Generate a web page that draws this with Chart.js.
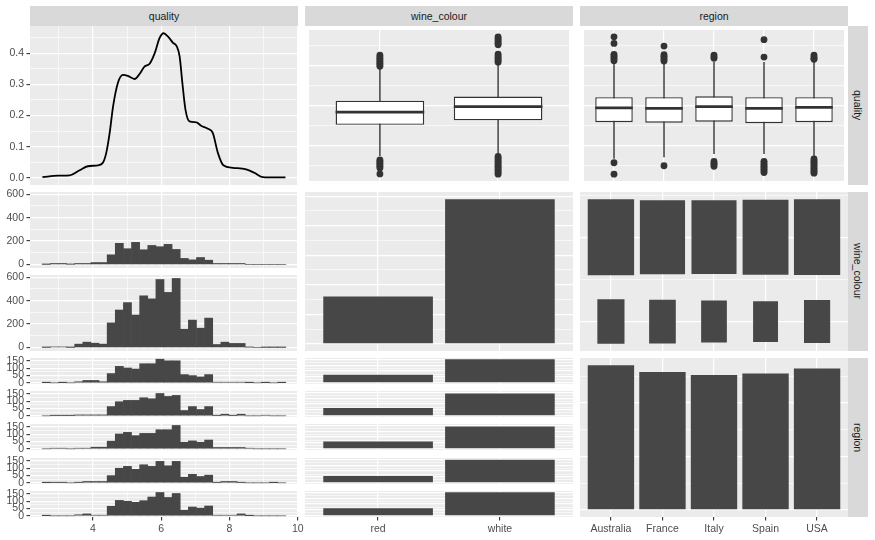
<!DOCTYPE html>
<html><head><meta charset="utf-8">
<script src="https://cdn.jsdelivr.net/npm/chart.js@4.4.1/dist/chart.umd.min.js"></script>
<style>
html,body{margin:0;padding:0;background:#fff;}
#wrap{position:relative;width:875px;height:540px;overflow:hidden;background:#fff;}
canvas{position:absolute;}
.strip{position:absolute;background:#D9D9D9;color:#1A1A1A;font:10.5px 'Liberation Sans',Arial,Helvetica,sans-serif;display:flex;align-items:center;justify-content:center;}
.strip.v{writing-mode:vertical-rl;}
</style></head><body><div id="wrap"></div>
<script>
// ---------------- DATA ----------------
const variables = ['quality', 'wine_colour', 'region'];
const colourLevels = ['red', 'white'];
const regionLevels = ['Australia', 'France', 'Italy', 'Spain', 'USA'];

// density of quality (diagonal)
const densityX = [2.52, 2.98, 3.32, 3.61, 3.85, 4.15, 4.29, 4.39, 4.49, 4.59, 4.73, 4.88, 5.02, 5.22, 5.37, 5.51, 5.66, 5.81, 5.95, 6.07, 6.20, 6.34, 6.46, 6.54, 6.62, 6.71, 6.83, 7.03, 7.17, 7.37, 7.51, 7.66, 7.82, 8.10, 8.49, 8.73, 8.98, 9.30, 9.64];
const densityY = [0.002, 0.007, 0.008, 0.024, 0.037, 0.040, 0.048, 0.080, 0.144, 0.229, 0.304, 0.330, 0.327, 0.317, 0.334, 0.357, 0.366, 0.400, 0.448, 0.464, 0.453, 0.434, 0.421, 0.389, 0.304, 0.219, 0.181, 0.178, 0.167, 0.157, 0.144, 0.080, 0.040, 0.032, 0.027, 0.016, 0.002, 0.001, 0.001];

// histogram bin centres of quality
const binCenters = [2.632, 2.870, 3.108, 3.346, 3.584, 3.822, 4.059, 4.297, 4.535, 4.773, 5.011, 5.249, 5.487, 5.725, 5.963, 6.200, 6.438, 6.676, 6.914, 7.152, 7.390, 7.628, 7.866, 8.103, 8.341, 8.579, 8.817, 9.055, 9.293, 9.531];
const histRed   = [1, 9, 9, 2, 9, 9, 17, 17, 83, 181, 135, 189, 126, 163, 152, 172, 129, 52, 40, 60, 37, 9, 9, 9, 9, 0, 0, 0, 0, 0];
const histWhite = [1, 5, 5, 1, 29, 46, 37, 29, 210, 320, 383, 277, 441, 415, 580, 470, 589, 156, 234, 165, 251, 26, 46, 35, 35, 3, 0, 1, 1, 1];
const histAustralia = [1, 0, 1, 0, 7, 16, 16, 7, 63, 112, 101, 94, 130, 130, 161, 150, 150, 56, 49, 40, 56, 4, 4, 4, 4, 1, 0, 1, 0, 1];
const histFrance    = [0, 2, 2, 2, 6, 6, 6, 6, 63, 96, 105, 105, 123, 116, 152, 132, 139, 36, 63, 43, 63, 2, 11, 2, 11, 0, 0, 4, 0, 0];
const histItaly     = [0, 4, 4, 0, 4, 4, 11, 11, 52, 101, 112, 90, 105, 105, 130, 130, 159, 45, 54, 45, 60, 9, 9, 9, 9, 4, 0, 0, 0, 0];
const histSpain     = [1, 2, 2, 0, 2, 9, 9, 9, 49, 99, 112, 92, 123, 112, 146, 116, 146, 38, 58, 43, 52, 2, 9, 9, 2, 0, 0, 0, 1, 0];
const histUSA       = [1, 0, 0, 0, 7, 13, 4, 4, 65, 105, 99, 92, 103, 128, 159, 125, 152, 38, 60, 52, 67, 4, 4, 4, 13, 1, 0, 0, 0, 0];

// boxplots of quality by wine_colour
const colourQ1  = [5.028, 5.251];
const colourMed = [5.659, 5.929];
const colourQ3  = [6.228, 6.437];
const colourLo  = [3.476, 3.571];
const colourHi  = [7.842, 8.079];
const colourOut = [
  [8.50, 8.42, 8.34, 8.26, 8.18, 8.10, 8.02, 7.94, 3.28, 3.20, 3.12, 3.04, 2.96, 2.88, 2.58],
  [9.41, 9.33, 9.25, 9.17, 9.09, 9.01, 8.55, 8.47, 8.39, 8.31, 8.23, 8.15, 3.45, 3.37, 3.29, 3.21, 3.13, 3.05, 2.97, 2.89, 2.81, 2.73, 2.65, 2.57]
];
// boxplots of quality by region
const regionQ1  = [5.156, 5.137, 5.184, 5.108, 5.156];
const regionMed = [5.868, 5.849, 5.929, 5.849, 5.897];
const regionQ3  = [6.404, 6.404, 6.451, 6.404, 6.404];
const regionLo  = [3.333, 3.414, 3.571, 3.571, 3.447];
const regionHi  = [8.079, 8.079, 8.160, 8.160, 8.160];
const regionOut = [
  [9.41, 9.08, 8.54, 8.46, 8.38, 8.30, 8.22, 3.14, 2.57],
  [8.95, 8.52, 8.44, 8.36, 8.28, 8.20, 2.99],
  [8.50, 8.42, 8.34, 3.20, 3.12, 3.04, 2.96],
  [9.27, 8.40, 3.21, 3.13, 3.05, 2.97, 2.89, 2.81, 2.73, 2.65],
  [8.50, 8.42, 8.34, 8.29, 3.33, 3.25, 3.17, 3.09, 3.01, 2.93, 2.85, 2.77, 2.69, 2.62]
];

// counts
const colourTotals = [1599, 4898];
const regionTotals = [1352, 1288, 1260, 1275, 1322];
const countRed   = [345, 333, 310, 290, 321];
const countWhite = [1007, 955, 950, 985, 1001];

// tick values
const qualityTicks = [3, 4, 5, 6, 7, 8, 9, 10];
const qualityMajor = [4, 6, 8, 10];
const boxTicks = [3, 4, 5, 6, 7, 8, 9];
const boxMajor = [4, 6, 8];
const densTicks = [0, 0.05, 0.1, 0.15, 0.2, 0.25, 0.3, 0.35, 0.4, 0.45];
const densMajor = [0, 0.1, 0.2, 0.3, 0.4];
const hist2Ticks = [0, 100, 200, 300, 400, 500, 600];
const hist2Major = [0, 200, 400, 600];
const hist3Ticks = [0, 25, 50, 75, 100, 125, 150];
const hist3Major = [0, 50, 100, 150];
const colBarTicks = [0, 500, 1000, 1500, 2000, 2500, 3000, 3500, 4000, 4500, 5000];
const colBarMajor = [0, 1000, 2000, 3000, 4000, 5000];
const regBarTicks = [0, 250, 500, 750, 1000, 1250];
const regBarMajor = [0, 500, 1000];
const facetBarTicks = [0, 125, 250, 375, 500, 625, 750, 875, 1000];
const facetBarMajor = [0, 250, 500, 750, 1000];

// ---------------- STYLE / HELPERS ----------------
const BG = '#EBEBEB', GRID = '#FFFFFF', BAR = '#474747', INK = '#333333', TXT = '#4D4D4D';
const FONT = "'Liberation Sans', Arial, Helvetica, sans-serif";
const BOX_WIDTH = 0.75;
Chart.defaults.font.family = FONT;
Chart.defaults.font.size = 10.5;
Chart.defaults.color = TXT;

const wrap = document.getElementById('wrap');
const COLS = [30, 305, 580], ROWS = [26, 192, 358], PW = 268, PH = 159;

const bgPlugin = {id: 'panelBg', beforeDraw(c) {
  const a = c.chartArea, ctx = c.ctx;
  ctx.save(); ctx.fillStyle = BG; ctx.fillRect(a.left, a.top, a.right - a.left, a.bottom - a.top); ctx.restore();
}};

function isIn(v, arr) { return arr.some(a => Math.abs(a - v) < 1e-9); }
function expand(max) { return {min: -0.05 * max, max: 1.05 * max}; }

function lin(o) {
  const lab = !!o.labelFor;
  return {
    type: 'linear', min: o.min, max: o.max, offset: false,
    border: {display: false},
    grid: {
      offset: false, color: GRID,
      lineWidth: c => (c.tick && isIn(c.tick.value, o.majors)) ? 1.2 : 0.6,
      drawTicks: lab, tickLength: 3.5, tickWidth: 1.1,
      tickColor: c => (lab && c.tick && isIn(c.tick.value, o.majors)) ? INK : 'rgba(0,0,0,0)'
    },
    ticks: {display: lab, autoSkip: false, maxRotation: 0, minRotation: 0, padding: 2.5, color: TXT,
      font: {family: FONT, size: 10.5},
      callback: v => (lab && isIn(v, o.majors)) ? o.labelFor(v) : ''},
    afterBuildTicks: s => { s.ticks = o.ticks.map(v => ({value: v})); },
    afterFit: s => {
      if (s.isHorizontal()) s.height = o.size || 0; else s.width = o.size || 0;
      s.paddingLeft = s.paddingRight = s.paddingTop = s.paddingBottom = 0;
    }
  };
}

function makeChart(px, py, pw, ph, m, type, datasets, xo, yo) {
  const cv = document.createElement('canvas');
  const W = pw + m.l + m.r, H = ph + m.t + m.b;
  cv.width = W; cv.height = H;
  cv.style.left = (px - m.l) + 'px'; cv.style.top = (py - m.t) + 'px';
  cv.style.width = W + 'px'; cv.style.height = H + 'px';
  wrap.appendChild(cv);
  return new Chart(cv.getContext('2d'), {
    type, data: {datasets},
    options: {
      responsive: false, animation: false, devicePixelRatio: 1, events: [],
      layout: {padding: {left: m.l - m.ay, right: m.r, top: m.t, bottom: m.b - m.ax}},
      plugins: {legend: {display: false}, tooltip: {enabled: false}},
      scales: {x: xo, y: yo}
    },
    plugins: [bgPlugin]
  });
}

function strip(x, y, w, h, text, vertical) {
  const d = document.createElement('div');
  d.className = 'strip' + (vertical ? ' v' : '');
  d.style.left = x + 'px'; d.style.top = y + 'px'; d.style.width = w + 'px'; d.style.height = h + 'px';
  d.textContent = text;
  wrap.appendChild(d);
}

function histDs(counts) {
  return {type: 'bar', data: binCenters.map((x, k) => ({x, y: counts[k]})), backgroundColor: BAR,
    borderWidth: 0, barPercentage: 1, categoryPercentage: 1, grouped: false};
}
function barDs(values, width) {
  return {type: 'bar', data: values.map((v, i) => ({x: i + 1, y: v})), backgroundColor: BAR,
    borderWidth: 0, barPercentage: width, categoryPercentage: 1, grouped: false};
}
function boxDs(q1, med, q3, lo, hi, outs) {
  const ds = [];
  q1.forEach((_, i) => {
    const x = i + 1, hw = BOX_WIDTH / 2;
    ds.push({type: 'line', data: [{x, y: lo[i]}, {x, y: hi[i]}], borderColor: INK, borderWidth: 1.4,
      pointRadius: 0, order: 4});
    ds.push({type: 'bar', data: [{x, y: [q1[i], q3[i]]}], backgroundColor: '#FFFFFF', borderColor: INK,
      borderWidth: 1.4, borderSkipped: false, grouped: false, barPercentage: BOX_WIDTH, categoryPercentage: 1, order: 3});
    ds.push({type: 'line', data: [{x: x - hw, y: med[i]}, {x: x + hw, y: med[i]}], borderColor: INK,
      borderWidth: 2.8, pointRadius: 0, borderCapStyle: 'butt', order: 2});
    ds.push({type: 'scatter', data: outs[i].map(v => ({x, y: v})), pointRadius: 3.4, backgroundColor: INK,
      borderWidth: 0, order: 1});
  });
  return ds;
}

// ---------------- AXES ----------------
const qMin = 2.156, qMax = 10.007;
const xQuality = (lbl) => lin({min: qMin, max: qMax, ticks: qualityTicks, majors: qualityMajor,
  labelFor: lbl ? (v => String(v)) : null, size: lbl ? 22 : 0});
const xColour = (lbl) => lin({min: 0.4, max: 2.6, ticks: [1, 2], majors: [1, 2],
  labelFor: lbl ? (v => colourLevels[v - 1]) : null, size: lbl ? 22 : 0});
const xRegion = (lbl) => lin({min: 0.4, max: 5.6, ticks: [1, 2, 3, 4, 5], majors: [1, 2, 3, 4, 5],
  labelFor: lbl ? (v => regionLevels[v - 1]) : null, size: lbl ? 22 : 0});
const yBox = () => lin({min: 2.23, max: 9.75, ticks: boxTicks, majors: boxMajor});

// ---------------- STRIPS ----------------
variables.forEach((v, i) => strip(COLS[i], 6, PW, 20, v, false));
variables.forEach((v, i) => strip(848, ROWS[i], 20, PH, v, true));

const M0 = {l: 0, r: 0, t: 0, b: 0, ay: 0, ax: 0};

// ---------------- ROW 1 ----------------
const dmax = Math.max(...densityY);
makeChart(COLS[0], ROWS[0], PW, PH, {l: 30, r: 0, t: 0, b: 0, ay: 30, ax: 0}, 'line',
  [{data: densityX.map((x, i) => ({x, y: densityY[i]})), borderColor: '#000000', borderWidth: 1.8,
    pointRadius: 0, cubicInterpolationMode: 'monotone', fill: false}],
  xQuality(false),
  lin(Object.assign(expand(dmax), {ticks: densTicks, majors: densMajor, labelFor: v => v.toFixed(1), size: 30})));

makeChart(COLS[1], ROWS[0], PW, PH, M0, 'bar',
  boxDs(colourQ1, colourMed, colourQ3, colourLo, colourHi, colourOut), xColour(false), yBox());
makeChart(COLS[2], ROWS[0], PW, PH, M0, 'bar',
  boxDs(regionQ1, regionMed, regionQ3, regionLo, regionHi, regionOut), xRegion(false), yBox());

// ---------------- ROW 2 ----------------
const h2max = Math.max(...histRed, ...histWhite);
[histRed, histWhite].forEach((h, j) => {
  makeChart(COLS[0], [192, 275][j], PW, 76, {l: 30, r: 0, t: 7, b: 7, ay: 30, ax: 0}, 'bar',
    [histDs(h)], xQuality(false),
    lin(Object.assign(expand(h2max), {ticks: hist2Ticks, majors: hist2Major, labelFor: v => String(v), size: 30})));
});

makeChart(COLS[1], ROWS[1], PW, PH, M0, 'bar', [barDs(colourTotals, 0.9)], xColour(false),
  lin(Object.assign(expand(Math.max(...colourTotals)), {ticks: colBarTicks, majors: colBarMajor})));

// count plot region x wine_colour
(function () {
  const cmax = Math.max(...countRed, ...countWhite);
  const size = n => 0.9 * Math.sqrt(n / cmax);
  const ds = [];
  [countRed, countWhite].forEach((arr, j) => {
    arr.forEach((n, i) => {
      const s = size(n), c = j + 1;
      ds.push({type: 'bar', data: [{x: i + 1, y: [c - s / 2, c + s / 2]}], backgroundColor: BAR,
        borderWidth: 0, barPercentage: s, categoryPercentage: 1, grouped: false});
    });
  });
  const lo = 1 - size(Math.max(...countRed)) / 2, hi = 2 + size(Math.max(...countWhite)) / 2;
  const pad = 0.05 * (hi - lo);
  makeChart(COLS[2], ROWS[1], PW, PH, M0, 'bar', ds, xRegion(false),
    lin({min: lo - pad, max: hi + pad, ticks: [1, 1.5, 2, 2.5], majors: [1, 2]}));
})();

// ---------------- ROW 3 ----------------
const regionHists = [histAustralia, histFrance, histItaly, histSpain, histUSA];
const h3max = Math.max(...regionHists.flat());
const facetTops = [358, 391, 424, 458, 491];
const fbMax = Math.max(...countRed, ...countWhite);
regionHists.forEach((h, i) => {
  const last = i === regionHists.length - 1;
  makeChart(COLS[0], facetTops[i], PW, 26,
    {l: 30, r: last ? 8 : 0, t: 7, b: last ? 22 : 7, ay: 30, ax: last ? 22 : 0}, 'bar',
    [histDs(h)], xQuality(last),
    lin(Object.assign(expand(h3max), {ticks: hist3Ticks, majors: hist3Major, labelFor: v => String(v), size: 30})));
  makeChart(COLS[1], facetTops[i], PW, 26,
    {l: 0, r: 0, t: 0, b: last ? 22 : 0, ay: 0, ax: last ? 22 : 0}, 'bar',
    [barDs([countRed[i], countWhite[i]], 0.9)], xColour(last),
    lin(Object.assign(expand(fbMax), {ticks: facetBarTicks, majors: facetBarMajor})));
});

makeChart(COLS[2], ROWS[2], PW, PH, {l: 0, r: 0, t: 0, b: 22, ay: 0, ax: 22}, 'bar',
  [barDs(regionTotals, 0.9)], xRegion(true),
  lin(Object.assign(expand(Math.max(...regionTotals)), {ticks: regBarTicks, majors: regBarMajor})));
</script>
</body></html>
